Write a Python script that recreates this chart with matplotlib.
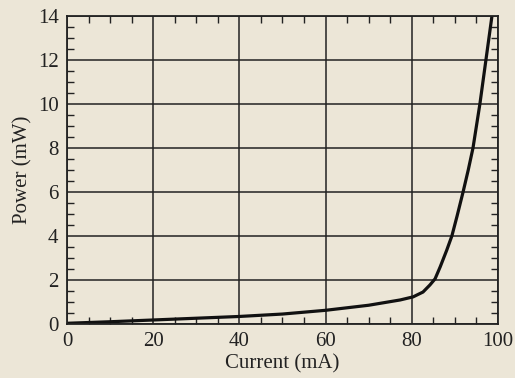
import matplotlib
matplotlib.use("Agg")
import matplotlib.pyplot as plt
from matplotlib.ticker import MultipleLocator

# current (mA) vs optical power (mW)
current = [0, 10, 20, 30, 40, 50, 60, 70, 77.3, 80.3, 82.6, 84.2, 85.4, 86.6, 88.1, 89.3, 90.5, 91.9, 93.1, 94.2, 95.8, 97.2, 98.6, 99.2]
power = [0.03, 0.1, 0.18, 0.26, 0.34, 0.45, 0.62, 0.85, 1.09, 1.23, 1.45, 1.77, 2.05, 2.6, 3.35, 4.0, 4.9, 6.0, 7.0, 8.0, 10.0, 12.0, 14.0, 14.8]

bg = '#ece6d7'
plt.rcParams['font.family'] = ['Liberation Serif', 'DejaVu Serif']

fig = plt.figure(figsize=(5.15, 3.78), dpi=100, facecolor=bg)
ax = fig.add_axes([0.130, 0.143, 0.837, 0.815], facecolor=bg)

ax.plot(current, power, color='#111111', lw=2.3, solid_capstyle='round', solid_joinstyle='round')

ax.set_xlim(0, 100)
ax.set_ylim(0, 14)
ax.xaxis.set_major_locator(MultipleLocator(20))
ax.yaxis.set_major_locator(MultipleLocator(2))
ax.xaxis.set_minor_locator(MultipleLocator(5))
ax.yaxis.set_minor_locator(MultipleLocator(0.5))
ax.grid(True, which='major', color='#222222', lw=1.1)
ax.tick_params(which='both', direction='in', top=True, right=True, color='#222222')
ax.tick_params(which='major', length=0, labelsize=15, pad=6, labelcolor='#222222')
ax.tick_params(which='minor', length=5, width=1)
for s in ax.spines.values():
    s.set_linewidth(1.3)
    s.set_color('#222222')

ax.set_xlabel('Current (mA)', fontsize=15, color='#222222', labelpad=2)
ax.set_ylabel('Power (mW)', fontsize=15, color='#222222', labelpad=4)

fig.savefig('out.png', dpi=100, facecolor=bg)
